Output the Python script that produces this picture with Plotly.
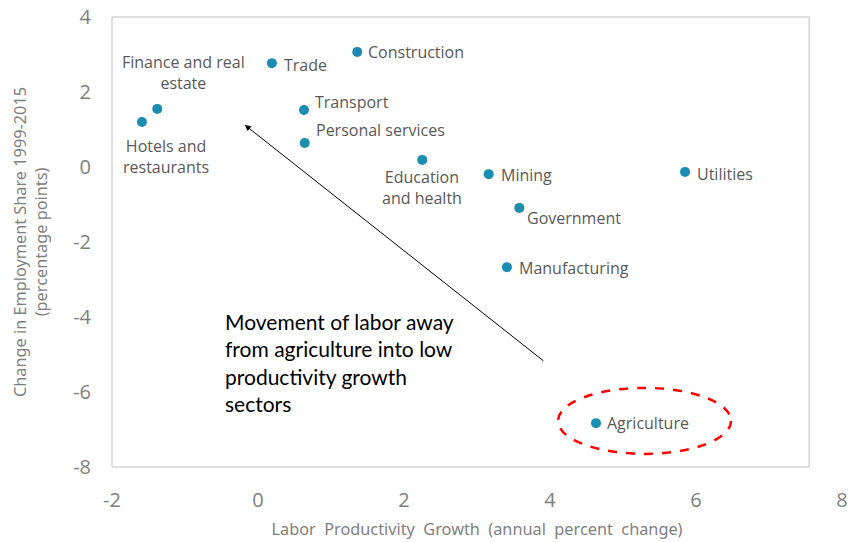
import plotly.graph_objects as go

sectors = ["Hotels and<br>restaurants", "Finance and real<br>estate", "Trade", "Construction",
           "Transport", "Personal services", "Education<br>and health", "Mining",
           "Government", "Utilities", "Manufacturing", "Agriculture"]
productivity = [-1.59, -1.38, 0.19, 1.36, 0.63, 0.64, 2.25, 3.16, 3.58, 5.85, 3.41, 4.63]
emp_share = [1.2, 1.55, 2.77, 3.07, 1.52, 0.64, 0.19, -0.19, -1.09, -0.13, -2.67, -6.83]
x_ticks = [-2, 0, 2, 4, 6, 8]
y_ticks = [-8, -6, -4, -2, 0, 2, 4]

# label placement styles (pixel offsets, anchors)
label_style = {
    "Hotels and<br>restaurants": dict(xshift=24, yshift=-34, xanchor="center"),
    "Finance and real<br>estate": dict(xshift=26, yshift=36, xanchor="center"),
    "Trade": dict(xshift=10, yshift=-2, xanchor="left"),
    "Construction": dict(xshift=9, yshift=0, xanchor="left"),
    "Transport": dict(xshift=9, yshift=8, xanchor="left"),
    "Personal services": dict(xshift=9, yshift=13, xanchor="left"),
    "Education<br>and health": dict(xshift=0, yshift=-28, xanchor="center"),
    "Mining": dict(xshift=10, yshift=-1, xanchor="left"),
    "Government": dict(xshift=6, yshift=-10, xanchor="left"),
    "Utilities": dict(xshift=10, yshift=-2, xanchor="left"),
    "Manufacturing": dict(xshift=10, yshift=-1, xanchor="left"),
    "Agriculture": dict(xshift=9, yshift=0, xanchor="left"),
}

fig = go.Figure()
fig.add_trace(go.Scatter(
    x=productivity, y=emp_share, mode="markers",
    marker=dict(color="#1a8db0", size=10),
    hoverinfo="skip", showlegend=False,
))

for name, xv, yv in zip(sectors, productivity, emp_share):
    st = label_style[name]
    fig.add_annotation(x=xv, y=yv, text=name, showarrow=False,
                       xanchor=st["xanchor"], yanchor="middle",
                       xshift=st["xshift"], yshift=st["yshift"],
                       font=dict(family="Open Sans", size=16, color="#595959"),
                       align="center")

# arrow
fig.add_annotation(x=-0.18, y=1.12, ax=3.93, ay=-5.2, xref="x", yref="y",
                   axref="x", ayref="y", text="", showarrow=True,
                   arrowhead=2, arrowsize=1.2, arrowwidth=1, arrowcolor="#000000")

# text box
fig.add_annotation(x=-0.48, y=-3.72, xref="x", yref="y", showarrow=False,
                   text="Movement of labor away<br>from agriculture into low<br>productivity growth<br>sectors",
                   xanchor="left", yanchor="top", align="left",
                   font=dict(family="Lato", size=21, color="#000000"))

# ellipse
fig.add_shape(type="circle", xref="x", yref="y", x0=4.11, x1=6.48, y0=-7.65, y1=-5.89,
              line=dict(color="#ff0000", width=2.5, dash="dash"))

# plot area frame
fig.add_shape(type="rect", xref="paper", yref="paper", x0=0, x1=0.955, y0=0, y1=1,
              line=dict(color="#bfbfbf", width=1), layer="below")

fig.update_layout(
    width=849, height=542,
    margin=dict(l=112, r=7, t=17, b=75),
    plot_bgcolor="white", paper_bgcolor="white",
    xaxis=dict(range=[-2, 8], tickvals=x_ticks, ticktext=[str(v) for v in x_ticks],
               showgrid=False, zeroline=False, automargin=False,
               showline=False, ticks="", ticklabelstandoff=19,
               tickfont=dict(family="Open Sans", size=20, color="#7f7f7f"),
               title=dict(text="Labor  Productivity  Growth  (annual  percent  change)",
                          font=dict(family="Noto Sans", size=16.3, color="#7f7f7f"), standoff=11)),
    yaxis=dict(range=[-8, 4], tickvals=y_ticks, ticktext=[str(v) for v in y_ticks],
               showgrid=False, zeroline=False, automargin=False,
               showline=False, ticks="", ticklabelstandoff=20,
               tickfont=dict(family="Open Sans", size=20, color="#7f7f7f"),
               title=dict(text="Change in Employment Share 1999-2015<br>(percentage points)",
                          font=dict(family="Noto Sans", size=16.3, color="#7f7f7f"), standoff=21)),
)

fig.write_html("out.html")
